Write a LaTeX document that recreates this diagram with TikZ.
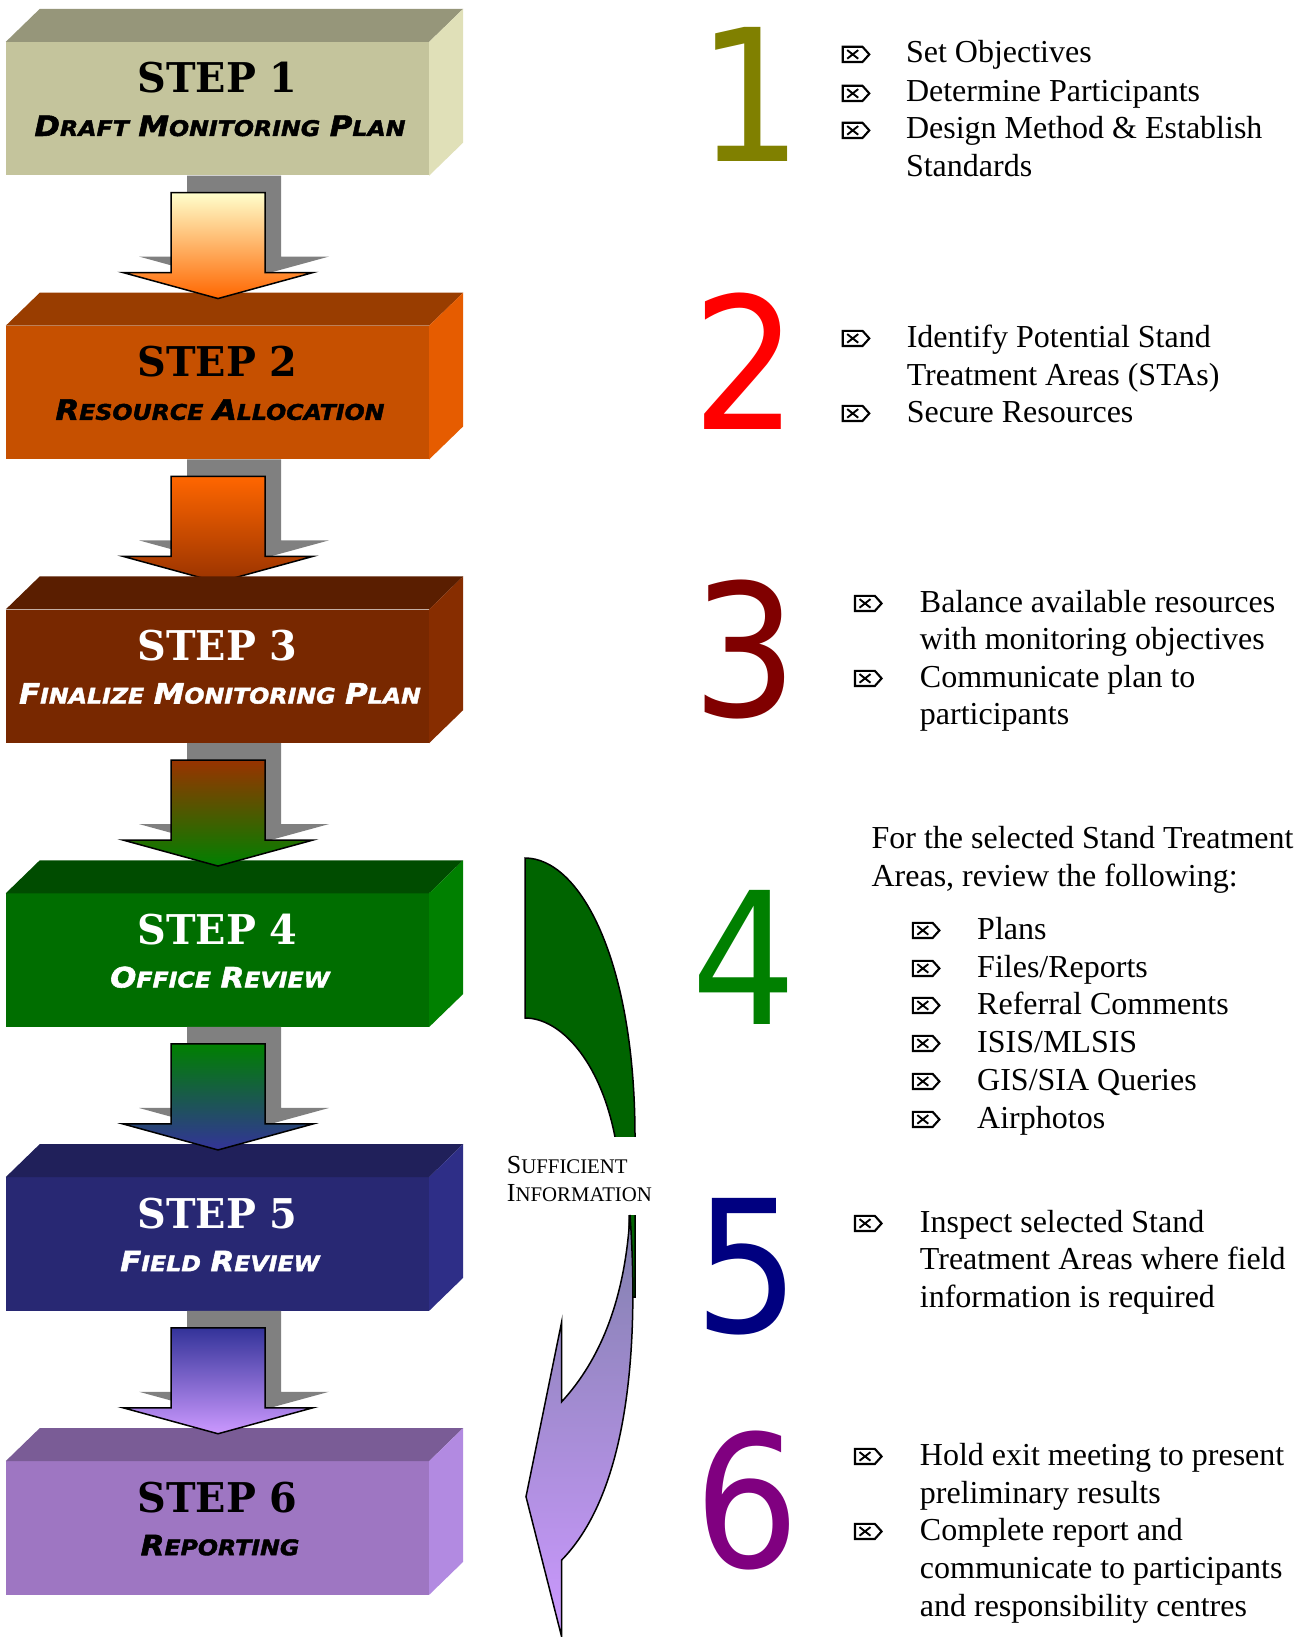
\documentclass[tikz,border=0pt]{standalone}
\usepackage{fontspec}
\setmainfont{Liberation Serif}
\newfontfamily\numfont[FakeStretch=0.9]{DejaVu Sans}
\newfontfamily\titlefont[FakeStretch=0.97]{DejaVu Serif}
\newfontfamily\subfont[FakeStretch=1.1,FakeBold=2]{DejaVu Sans}
\usetikzlibrary{calc}

\definecolor{sAfront}{RGB}{196,196,156}
\definecolor{sAtop}{RGB}{150,150,122}
\definecolor{sAside}{RGB}{224,224,184}
\definecolor{sBfront}{RGB}{198,80,0}
\definecolor{sBtop}{RGB}{153,61,0}
\definecolor{sBside}{RGB}{230,92,0}
\definecolor{sCfront}{RGB}{120,40,0}
\definecolor{sCtop}{RGB}{90,30,0}
\definecolor{sCside}{RGB}{135,45,0}
\definecolor{sDfront}{RGB}{0,110,0}
\definecolor{sDtop}{RGB}{0,76,0}
\definecolor{sDside}{RGB}{0,128,0}
\definecolor{sEfront}{RGB}{40,40,115}
\definecolor{sEtop}{RGB}{32,32,90}
\definecolor{sEside}{RGB}{46,46,135}
\definecolor{sFfront}{RGB}{158,118,194}
\definecolor{sFtop}{RGB}{122,92,150}
\definecolor{sFside}{RGB}{178,138,225}
\definecolor{shadowgray}{RGB}{128,128,128}
\definecolor{arrA}{RGB}{255,255,204}
\definecolor{arrB}{RGB}{255,102,0}
\definecolor{arrC}{RGB}{153,51,0}
\definecolor{arrD}{RGB}{0,128,0}
\definecolor{arrE}{RGB}{51,51,153}
\definecolor{arrF}{RGB}{204,153,255}
\definecolor{numA}{RGB}{128,128,0}
\definecolor{numB}{RGB}{255,0,0}
\definecolor{numC}{RGB}{128,0,0}
\definecolor{numD}{RGB}{0,128,0}
\definecolor{numE}{RGB}{0,0,128}
\definecolor{numF}{RGB}{128,0,128}
\definecolor{curvegreen}{RGB}{0,100,0}
\definecolor{curvetop}{RGB}{128,128,172}
\definecolor{curvebot}{RGB}{204,153,255}

\newcommand\SC[2]{{\fontsize{28}{28}\selectfont #1}{\fontsize{21.5}{21.5}\selectfont #2}}
\newcommand\TSC[2]{{\fontsize{26}{26}\selectfont #1}{\fontsize{20.8}{20.8}\selectfont #2}}

\newcommand\StepBox[6]{%
  \node[stepbox, fill=#3front] (#1) at (217.5,#2+99.7) {};
  \fill[#3top] (#1.north west) -- ++(34,-33) -- ([shift={(34,-33)}]#1.north east) -- (#1.north east) -- cycle;
  \fill[#3side] (#1.north east) -- ++(34,-33) -- ([shift={(34,-33)}]#1.south east) -- (#1.south east) -- cycle;
  \node[steptitle, text=#4] (#1t) at (217.5,#2+84) {#5};
  \node[stepsub, text=#4] (#1s) at (220,#2+127) {#6};
}

\newcommand\DArrow[3]{%
  \begin{scope}[shift={(#1.south)}]
    \fill[shadowgray] (-30.5,0) -- (-30.5,81) -- (-78.5,81) -- (16.5,107) -- (111.5,81) -- (63.5,81) -- (63.5,0) -- cycle;
    \draw[line width=1.5pt, line join=miter, top color=#2, bottom color=#3]
      (-46.5,17) -- (-46.5,97) -- (-94.5,97) -- (0.5,123) -- (95.5,97) -- (47.5,97) -- (47.5,17) -- cycle;
  \end{scope}}

\begin{document}
\begin{tikzpicture}[x=1pt,y=-1pt,
  stepbox/.style={rectangle, minimum width=423pt, minimum height=133.3pt, inner sep=0pt, draw=none},
  steptitle/.style={anchor=base, inner sep=0pt, font=\titlefont\bfseries\fontsize{41}{41}\selectfont},
  stepsub/.style={anchor=base, inner sep=0pt, font=\subfont\bfseries\itshape\fontsize{25}{25}\selectfont},
  bignum/.style={anchor=base, inner sep=0pt, font=\numfont\fontsize{184}{184}\selectfont},
  itemtext/.style={anchor=base west, inner sep=0pt, font=\fontsize{32}{38}\selectfont},
  sufftext/.style={anchor=base west, inner sep=0pt, font=\fontsize{26}{26}\selectfont},
  bul/.pic={
    \draw[line width=2.1pt, line join=miter] (1,-1) -- (20.8,-1) -- (27.6,-8.6) -- (20.8,-16.2) -- (1,-16.2) -- cycle;
    \draw[line width=1.9pt] (5.5,-4.3) -- (16.5,-12.9) (5.5,-12.9) -- (16.5,-4.3);
  }
]
\useasboundingbox (0,0) rectangle (1311,1637);
\fill[white] (0,0) rectangle (1311,1637);

% ---------- step boxes and arrows ----------
\StepBox{s1}{9}{sA}{black}{STEP 1}{\SC{D}{RAFT} \SC{M}{ONITORING} \SC{P}{LAN}}
\StepBox{s2}{292.8}{sB}{black}{STEP 2}{\SC{R}{ESOURCE} \SC{A}{LLOCATION}}
\DArrow{s1}{arrA}{arrB}
\DArrow{s2}{arrB}{arrC}
\StepBox{s3}{576.5}{sC}{white}{STEP 3}{\SC{F}{INALIZE} \SC{M}{ONITORING} \SC{P}{LAN}}
\StepBox{s4}{860.4}{sD}{white}{STEP 4}{\SC{O}{FFICE} \SC{R}{EVIEW}}
\DArrow{s3}{arrC}{arrD}
\StepBox{s5}{1144.2}{sE}{white}{STEP 5}{\SC{F}{IELD} \SC{R}{EVIEW}}
\DArrow{s4}{arrD}{arrE}
\StepBox{s6}{1428.2}{sF}{black}{STEP 6}{\SC{R}{EPORTING}}
\DArrow{s5}{arrE}{arrF}

% ---------- curved "sufficient information" arrow ----------
\draw[line width=1.5pt, fill=curvegreen, line join=miter]
  (525,858) .. controls (580,858) and (635,960) .. (635,1137) -- (635,1297) -- (629,1297) -- (629,1215)
  .. controls (627,1180) and (622,1160) .. (615,1137)
  .. controls (600,1060) and (560,1018) .. (525,1018) -- cycle;
\fill[white] (598,1137) rectangle (660,1215);
\draw[line width=1.5pt, line join=miter, top color=curvetop, bottom color=curvebot]
  (630,1215) .. controls (636,1300) and (640,1480) .. (561.7,1560) -- (561.7,1637) -- (526,1496.7)
  -- (561.7,1321.7) -- (561.7,1401.7) .. controls (600,1360) and (625,1300) .. (630,1215) -- cycle;
\node[sufftext] (suffA) at (506.7,1173) {\TSC{S}{UFFICIENT}};
\node[sufftext] (suffB) at (506.7,1201.7) {\TSC{I}{NFORMATION}};

% ---------- big numbers ----------
\node[bignum, text=numA] (n1) at (750,162) {1};
\node[bignum, text=numB] (n2) at (745,429) {2};
\node[bignum, text=numC] (n3) at (745,716) {3};
\node[bignum, text=numD] (n4) at (744,1024) {4};
\node[bignum, text=numE] (n5) at (747,1332) {5};
\node[bignum, text=numF] (n6) at (747,1567) {6};

% ---------- section 1 ----------
\pic at (841.7,63) {bul};
\pic at (841.7,102) {bul};
\pic at (841.7,139) {bul};
\node[itemtext] (a1) at (905.8,63) {Set Objectives};
\node[itemtext] (a2) at (905.8,102) {Determine Participants};
\node[itemtext] (a3) at (905.8,139) {Design Method \& Establish};
\node[itemtext] (a4) at (905.8,177) {Standards};

% ---------- section 2 ----------
\pic at (841.7,347) {bul};
\pic at (841.7,422) {bul};
\node[itemtext] (b1) at (906.6,347) {Identify Potential Stand};
\node[itemtext] (b2) at (906.6,385) {Treatment Areas (STAs)};
\node[itemtext] (b3) at (906.6,422) {Secure Resources};

% ---------- section 3 ----------
\pic at (854,612) {bul};
\pic at (854,687) {bul};
\node[itemtext] (c1) at (919.7,612) {Balance available resources};
\node[itemtext] (c2) at (919.7,649) {with monitoring objectives};
\node[itemtext] (c3) at (919.7,687) {Communicate plan to};
\node[itemtext] (c4) at (919.7,724) {participants};

% ---------- section 4 ----------
\node[itemtext] (d0) at (871.4,848) {For the selected Stand Treatment};
\node[itemtext] (d00) at (871.4,886) {Areas, review the following:};
\pic at (911.8,939) {bul};
\pic at (911.8,977) {bul};
\pic at (911.8,1014) {bul};
\pic at (911.8,1052) {bul};
\pic at (911.8,1090) {bul};
\pic at (911.8,1128) {bul};
\node[itemtext] (d1) at (977,939) {Plans};
\node[itemtext] (d2) at (977,977) {Files/Reports};
\node[itemtext] (d3) at (977,1014) {Referral Comments};
\node[itemtext] (d4) at (977,1052) {ISIS/MLSIS};
\node[itemtext] (d5) at (977,1090) {GIS/SIA Queries};
\node[itemtext] (d6) at (977,1128) {Airphotos};

% ---------- section 5 ----------
\pic at (854,1232) {bul};
\node[itemtext] (e1) at (919.7,1232) {Inspect selected Stand};
\node[itemtext] (e2) at (919.7,1269) {Treatment Areas where field};
\node[itemtext] (e3) at (919.7,1307) {information is required};

% ---------- section 6 ----------
\pic at (854,1465) {bul};
\pic at (854,1540) {bul};
\node[itemtext] (f1) at (919.7,1465) {Hold exit meeting to present};
\node[itemtext] (f2) at (919.7,1503) {preliminary results};
\node[itemtext] (f3) at (919.7,1540) {Complete report and};
\node[itemtext] (f4) at (919.7,1578) {communicate to participants};
\node[itemtext] (f5) at (919.7,1616) {and responsibility centres};
\end{tikzpicture}
\end{document}
